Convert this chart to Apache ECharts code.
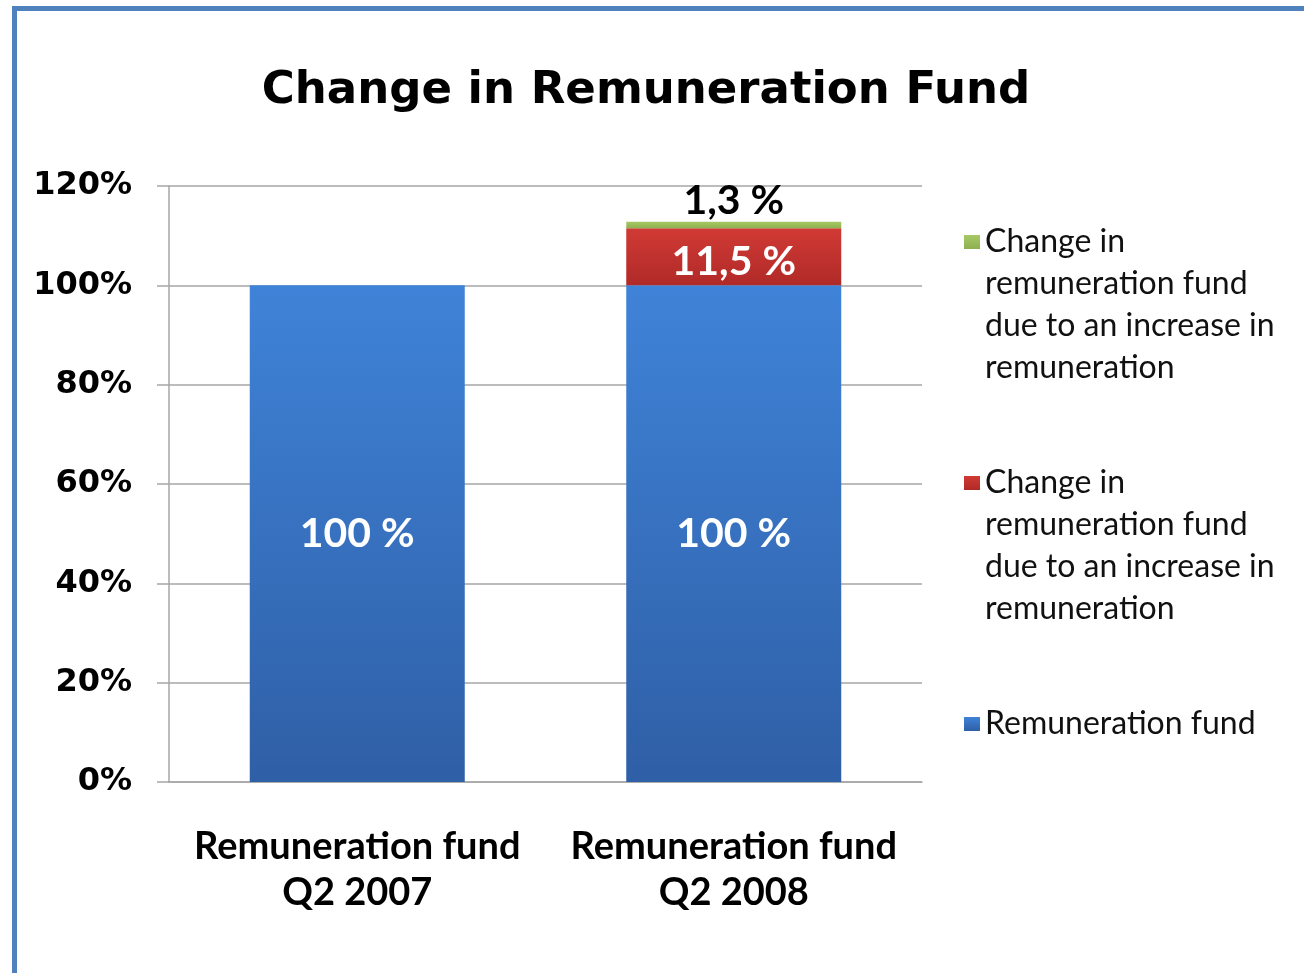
<!DOCTYPE html>
<html>
<head>
<meta charset="utf-8">
<script src="https://cdn.jsdelivr.net/npm/echarts@6/dist/echarts.min.js"></script>
<style>
  html, body { margin: 0; padding: 0; background: #fff; }
  #frame {
    position: absolute; left: 12px; top: 6px; width: 1400px; height: 1100px;
    border: 5px solid #4f81bd; box-sizing: border-box;
  }
  #chart { position: absolute; left: 0; top: 0; width: 1304px; height: 973px; }
</style>
</head>
<body>
<div id="frame"></div>
<div id="chart"></div>
<script>
// data
const categories = ['Remuneration fund\nQ2 2007', 'Remuneration fund\nQ2 2008'];
const fundValues = [100, 100];
const increaseValues = ['-', 11.5];
const otherChangeValues = ['-', 1.3];
const yTicks = [0, 20, 40, 60, 80, 100, 120];

const FUND = 'Remuneration fund';
const INCREASE = 'Change in remuneration fund due to an increase in remuneration';
const OTHER = 'Change in remuneration fund due to an increase in remuneration ';
// three blank lines first so the icon sits beside the first text line
const LONG_TEXT = '\n\n\nChange in\nremuneration fund\ndue to an increase in\nremuneration';

const grad = (c1, c2) => new echarts.graphic.LinearGradient(0, 0, 0, 1, [
  { offset: 0, color: c1 }, { offset: 1, color: c2 }
]);

const pct = p => String(p.value).replace('.', ',') + ' %';
const labelFont = { fontFamily: 'Lato', fontWeight: 'bold', fontSize: 41 };

const legendBase = {
  orient: 'vertical', left: 964, padding: 0,
  itemWidth: 16, itemHeight: 14, itemGap: 0,
  icon: 'rect',
  textStyle: { fontFamily: 'Lato', fontSize: 32, lineHeight: 42, color: '#111' }
};

const chart = echarts.init(document.getElementById('chart'));
chart.setOption({
  animation: false,
  title: {
    text: 'Change in Remuneration Fund',
    left: 641, top: 64, textAlign: 'center',
    textStyle: { fontFamily: 'DejaVu Sans', fontWeight: 'bold', fontSize: 45, color: '#000' }
  },
  legend: [
    Object.assign({}, legendBase, { top: 95, data: [OTHER], formatter: () => LONG_TEXT }),
    Object.assign({}, legendBase, { top: 336, data: [INCREASE], formatter: () => LONG_TEXT }),
    Object.assign({}, legendBase, { top: 703, data: [FUND] })
  ],
  grid: { left: 169, right: 382, top: 186, bottom: 191 },
  xAxis: {
    type: 'category',
    data: categories,
    axisLine: { lineStyle: { color: '#a6a6a6', width: 1.5 } },
    axisTick: { show: false },
    axisLabel: {
      interval: 0, margin: 42, color: '#000', fontFamily: 'Lato', fontWeight: 'bold',
      fontSize: 38, lineHeight: 46
    }
  },
  yAxis: {
    type: 'value',
    min: yTicks[0], max: yTicks[yTicks.length - 1], interval: 20,
    axisLine: { show: true, lineStyle: { color: '#a6a6a6', width: 1.5 } },
    axisTick: { show: true, length: 12, lineStyle: { color: '#a6a6a6', width: 1.5 } },
    splitLine: { lineStyle: { color: '#a6a6a6', width: 1.5 } },
    axisLabel: {
      margin: 37, color: '#000', fontFamily: 'DejaVu Sans', fontWeight: 'bold',
      fontSize: 32, formatter: '{value}%'
    }
  },
  series: [
    {
      name: FUND, type: 'bar', stack: 'total', barWidth: 215,
      data: fundValues,
      itemStyle: { color: grad('#3f83d8', '#2f5fa6') },
      label: Object.assign({ show: true, position: 'inside', color: '#fff', formatter: pct }, labelFont)
    },
    {
      name: INCREASE, type: 'bar', stack: 'total', barWidth: 215,
      data: increaseValues,
      itemStyle: { color: grad('#d13a35', '#b02a28') },
      label: Object.assign({ show: true, position: 'inside', offset: [0, 5], color: '#fff', formatter: pct }, labelFont)
    },
    {
      name: OTHER, type: 'bar', stack: 'total', barWidth: 215,
      data: otherChangeValues,
      itemStyle: { color: grad('#a6c965', '#8fb04f') },
      label: Object.assign({ show: true, position: 'top', distance: 0, color: '#000', formatter: pct }, labelFont)
    }
  ]
});
</script>
</body>
</html>
